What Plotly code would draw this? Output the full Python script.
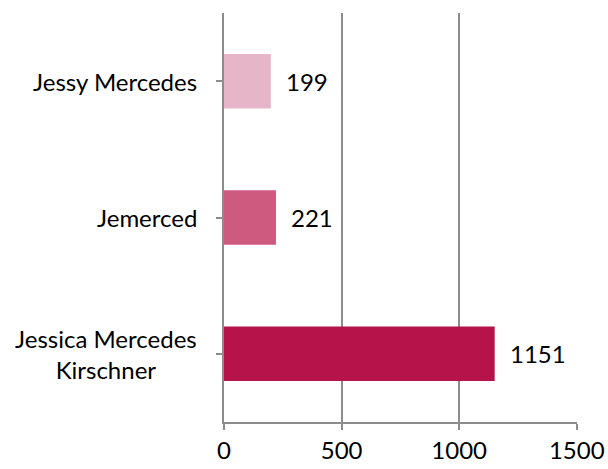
import plotly.graph_objects as go

# Data (bottom to top order for plotly's categorical axis)
names = ["Jessica Mercedes<br>Kirschner", "Jemerced", "Jessy Mercedes"]
values = [1151, 221, 199]
colors = ["#B5134A", "#CF5A80", "#E6B5C8"]
x_ticks = [0, 500, 1000, 1500]

font_family = "Lato, 'Open Sans', sans-serif"
FS = 24

fig = go.Figure()
fig.add_trace(go.Bar(
    y=list(range(len(names))),
    x=values,
    orientation="h",
    marker=dict(color=colors, line=dict(width=0)),
    width=0.4,
    hoverinfo="skip",
))

annotations = []
# value labels
for i, v in enumerate(values):
    annotations.append(dict(
        x=v, y=i, xref="x", yref="y", text=str(v), showarrow=False,
        xanchor="left", xshift=13, font=dict(size=FS, color="black", family=font_family),
    ))
# category labels (centered multi-line)
for i, n in enumerate(names):
    annotations.append(dict(
        x=0, y=i, xref="paper", yref="y", text=n, showarrow=False,
        xanchor="right", xshift=-25, align="center",
        font=dict(size=FS, color="black", family=font_family),
    ))

fig.update_layout(
    width=608, height=469,
    margin=dict(l=224, r=31, t=13, b=47, autoexpand=False),
    paper_bgcolor="white", plot_bgcolor="white",
    showlegend=False,
    font=dict(family=font_family, size=FS, color="black"),
    annotations=annotations,
)
fig.update_xaxes(
    range=[0, 1501], tickvals=x_ticks, ticktext=[str(t) for t in x_ticks],
    automargin=False,
    showgrid=True, gridcolor="#8C8C8C", gridwidth=1.5,
    showline=True, linecolor="#8C8C8C", linewidth=1.5,
    ticks="outside", ticklen=6, tickcolor="#8C8C8C", tickwidth=1.5,
    zeroline=False, tickfont=dict(size=FS, family=font_family, color="black"),
)
fig.update_yaxes(
    range=[-0.5, len(names) - 0.5], tickvals=list(range(len(names))),
    automargin=False,
    showticklabels=False, tickson="boundaries",
    showgrid=False, zeroline=False,
    showline=True, linecolor="#8C8C8C", linewidth=1.5,
    ticks="outside", ticklen=6, tickcolor="#8C8C8C", tickwidth=1.5,
)

fig.write_html("out.html", config={"displayModeBar": False})

# remove default page margins so the figure sits at the window's top-left corner
with open("out.html", "r", encoding="utf-8") as f:
    html = f.read()
html = html.replace("<head>", "<head><style>html,body{margin:0;padding:0;}</style>", 1)
with open("out.html", "w", encoding="utf-8") as f:
    f.write(html)
